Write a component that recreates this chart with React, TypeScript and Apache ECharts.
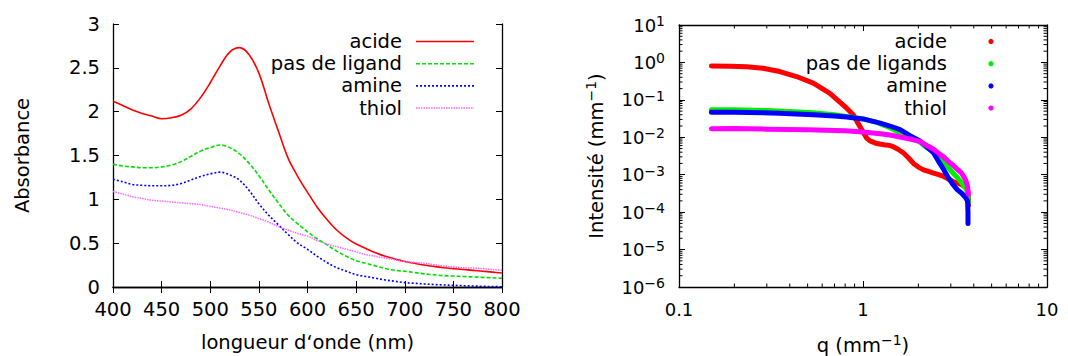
import React, { useEffect, useRef } from "react";
import * as echarts from "echarts";

// ---------- Left panel: UV-vis absorbance ----------
const wavelengths = [
  400, 410, 420, 430, 440, 450, 460, 470, 480, 490, 500, 510, 520, 530, 540, 550, 560, 570, 580, 590,
  600, 610, 620, 630, 640, 650, 660, 670, 680, 690, 700, 710, 720, 730, 740, 750, 760, 770, 780, 790, 800,
];
const absAcide = [
  2.12, 2.07, 2.02, 1.98, 1.95, 1.92, 1.93, 1.96, 2.03, 2.16, 2.33, 2.52, 2.68, 2.73, 2.65, 2.44, 2.1, 1.78, 1.47, 1.26,
  1.08, 0.91, 0.77, 0.65, 0.56, 0.49, 0.44, 0.39, 0.35, 0.32, 0.29, 0.27, 0.25, 0.235, 0.22, 0.21, 0.2, 0.19, 0.18, 0.17, 0.16,
];
const absPasDeLigand = [
  1.4, 1.38, 1.37, 1.36, 1.36, 1.37, 1.39, 1.43, 1.49, 1.55, 1.59, 1.62, 1.59, 1.52, 1.41, 1.27, 1.11, 0.96, 0.82, 0.72,
  0.63, 0.55, 0.48, 0.41, 0.35, 0.3, 0.27, 0.24, 0.21, 0.19, 0.18, 0.165, 0.15, 0.14, 0.13, 0.125, 0.12, 0.115, 0.11, 0.105, 0.1,
];
const absAmine = [
  1.23, 1.2, 1.17, 1.16, 1.155, 1.155, 1.16, 1.18, 1.22, 1.26, 1.29, 1.31, 1.28, 1.22, 1.1, 0.95, 0.82, 0.71, 0.6, 0.5,
  0.43, 0.35, 0.28, 0.22, 0.18, 0.14, 0.12, 0.1, 0.08, 0.065, 0.05, 0.042, 0.035, 0.028, 0.023, 0.019, 0.015, 0.011, 0.008, 0.005, 0.003,
];
const absThiol = [
  1.09, 1.06, 1.03, 1.01, 0.99, 0.98, 0.97, 0.96, 0.95, 0.94, 0.92, 0.9, 0.88, 0.85, 0.82, 0.78, 0.74, 0.69, 0.65, 0.61,
  0.58, 0.53, 0.49, 0.46, 0.43, 0.4, 0.37, 0.35, 0.33, 0.31, 0.29, 0.28, 0.27, 0.255, 0.24, 0.23, 0.22, 0.215, 0.21, 0.2, 0.19,
];

// ---------- Right panel: SAXS intensity ----------
const qAcide = [
  0.15, 0.189, 0.233, 0.286, 0.353, 0.435, 0.537, 0.661, 0.815, 0.885, 0.925, 0.965, 1.0, 1.047, 1.09, 1.19, 1.3, 1.4,
  1.46, 1.55, 1.66, 1.77, 1.88, 2.0, 2.13, 2.27, 2.42, 2.58, 2.74, 2.9, 3.09, 3.25, 3.44, 3.6, 3.7, 3.74, 3.75,
];
const iAcide = [
  0.8, 0.79, 0.77, 0.7, 0.57, 0.42, 0.28, 0.15, 0.06, 0.04, 0.027, 0.019, 0.014, 0.0095, 0.008, 0.0068, 0.0063, 0.006,
  0.0056, 0.0048, 0.0038, 0.0028, 0.002, 0.0016, 0.00135, 0.00122, 0.0011, 0.001, 0.0009, 0.00078, 0.00066, 0.0006, 0.00054, 0.00046, 0.0004, 0.00025, 0.00015,
];
const qPasDeLigands = [
  0.15, 0.2, 0.3, 0.4, 0.537, 0.7, 0.815, 1.0, 1.19, 1.4, 1.59, 1.8, 2.04, 2.2, 2.42, 2.6, 2.74, 2.9, 3.09, 3.25, 3.44, 3.6, 3.7, 3.74,
];
const iPasDeLigands = [
  0.054, 0.054, 0.052, 0.049, 0.045, 0.04, 0.036, 0.031, 0.025, 0.018, 0.013, 0.0098, 0.0075, 0.0055, 0.0042, 0.003, 0.0023, 0.0016,
  0.0011, 0.00085, 0.0006, 0.00045, 0.00035, 0.00018,
];
const qAmine = [
  0.15, 0.2, 0.353, 0.537, 0.7, 0.815, 1.0, 1.24, 1.4, 1.59, 1.8, 2.04, 2.2, 2.42, 2.6, 2.74, 2.9, 3.09, 3.25, 3.44, 3.6, 3.7, 3.72, 3.72,
];
const iAmine = [
  0.047, 0.047, 0.044, 0.04, 0.037, 0.035, 0.031, 0.024, 0.02, 0.016, 0.011, 0.008, 0.0058, 0.0038, 0.0021, 0.0014, 0.00085, 0.00054,
  0.0004, 0.00032, 0.00025, 0.0002, 0.0001, 0.00005,
];
const qThiol = [
  0.15, 0.2, 0.3, 0.5, 0.8, 1.0, 1.24, 1.4, 1.59, 1.8, 2.04, 2.2, 2.42, 2.6, 2.74, 2.9, 3.09, 3.25, 3.44, 3.6, 3.7, 3.74,
];
const iThiol = [
  0.017, 0.0172, 0.0165, 0.016, 0.015, 0.0138, 0.0125, 0.0115, 0.0102, 0.009, 0.0078, 0.0062, 0.0048, 0.0036, 0.003, 0.0023, 0.0018,
  0.0014, 0.0011, 0.00075, 0.0005, 0.0003,
];

const leftLegend = ["acide", "pas de ligand", "amine", "thiol"];
const rightLegend = ["acide", "pas de ligands", "amine", "thiol"];

const qMinorTicks = [0.2, 0.3, 0.4, 0.5, 0.6, 0.7, 0.8, 0.9, 2, 3, 4, 5, 6, 7, 8, 9];
const intensityDecades = [1e-6, 1e-5, 1e-4, 1e-3, 1e-2, 1e-1, 1];
const minorMultipliers = [2, 3, 4, 5, 6, 7, 8, 9];

const FONT = "DejaVu Sans";
const RED = "#ff0000";
const GREEN = "#00e000";
const BLUE = "#0000ff";
const PINK = "#ff66ff";
const MAGENTA = "#ff00ff";

const leftStyles = [
  { color: RED, width: 1.6, type: "solid" as any },
  { color: GREEN, width: 1.6, type: [4, 2] as any },
  { color: BLUE, width: 1.6, type: [2, 2] as any },
  { color: PINK, width: 1.5, type: [1.5, 1] as any },
];
const rightColors = [RED, "#00ee00", BLUE, MAGENTA];

const SUP = (e: number) => (e < 0 ? "\u2212" + Math.abs(e) : String(e));

export default function App() {
  const ref = useRef<HTMLDivElement>(null);
  useEffect(() => {
    if (!ref.current) return;
    const chart = echarts.init(ref.current, null, { renderer: "svg" });

    const axisLine = { show: true, lineStyle: { color: "#000", width: 1.3 } };
    const tickMajor = { show: true, inside: true, length: 6, lineStyle: { color: "#000", width: 1 } };
    const labelStyle = { color: "#000", fontFamily: FONT, fontSize: 19.5 };
    const nameStyle = { color: "#000", fontFamily: FONT, fontSize: 19.5 };

    const logLabelRich = {
      b: { fontFamily: FONT, fontSize: 18, color: "#000", lineHeight: 22 },
      e: { fontFamily: FONT, fontSize: 14, color: "#000", lineHeight: 6, verticalAlign: "top" },
    };
    const supRich = {
      s: { fontFamily: FONT, fontSize: 14, color: "#000", lineHeight: 8, verticalAlign: "top" },
    };

    const iMinorTicks: number[] = [];
    intensityDecades.forEach((d) => minorMultipliers.forEach((m) => iMinorTicks.push(m * d)));

    const leftData = [absAcide, absPasDeLigand, absAmine, absThiol];
    const rightData = [
      [qAcide, iAcide],
      [qPasDeLigands, iPasDeLigands],
      [qAmine, iAmine],
      [qThiol, iThiol],
    ];

    const legendRows = [41.5, 63.7, 85.9, 108.1];
    const graphics: any[] = [];
    leftLegend.forEach((name, i) => {
      graphics.push({
        type: "text",
        x: 402,
        y: legendRows[i],
        style: { text: name, align: "right", verticalAlign: "middle", fontFamily: FONT, fontSize: 19.5, fill: "#000" },
      });
      const st = leftStyles[i];
      graphics.push({
        type: "line",
        shape: { x1: 416, y1: legendRows[i], x2: 474, y2: legendRows[i] },
        style: { stroke: st.color, lineWidth: st.width, lineDash: Array.isArray(st.type) ? st.type : null },
      });
    });
    rightLegend.forEach((name, i) => {
      graphics.push({
        type: "text",
        x: 947,
        y: legendRows[i],
        style: { text: name, align: "right", verticalAlign: "middle", fontFamily: FONT, fontSize: 19.5, fill: "#000" },
      });
      graphics.push({
        type: "circle",
        shape: { cx: 991, cy: legendRows[i], r: 2.6 },
        style: { fill: rightColors[i] },
      });
    });

    const series: any[] = [];
    leftData.forEach((arr, i) => {
      series.push({
        type: "line",
        name: leftLegend[i],
        xAxisIndex: 0,
        yAxisIndex: 0,
        data: wavelengths.map((w, k) => [w, arr[k]]),
        showSymbol: false,
        smooth: 0.35,
        lineStyle: leftStyles[i],
        z: 5,
      });
    });
    rightData.forEach(([qs, is], i) => {
      series.push({
        type: "line",
        name: rightLegend[i],
        xAxisIndex: 2,
        yAxisIndex: 2,
        data: qs.map((q, k) => [q, is[k]]),
        showSymbol: false,
        lineStyle: { color: rightColors[i], width: 5, cap: "round", join: "round" },
        z: 5,
      });
    });
    series.push({
      type: "custom",
      xAxisIndex: 2,
      yAxisIndex: 2,
      data: [[1, 1]],
      silent: true,
      clip: false,
      z: 6,
      renderItem: (params: any, api: any) => {
        const cs = params.coordSys;
        const children: any[] = [];
        const st = { stroke: "#000", lineWidth: 1 };
        qMinorTicks.forEach((q) => {
          const x = api.coord([q, 1])[0];
          children.push({ type: "line", shape: { x1: x, y1: cs.y + cs.height, x2: x, y2: cs.y + cs.height - 3.5 }, style: st });
          children.push({ type: "line", shape: { x1: x, y1: cs.y, x2: x, y2: cs.y + 3.5 }, style: st });
        });
        iMinorTicks.forEach((v) => {
          const y = api.coord([1, v])[1];
          children.push({ type: "line", shape: { x1: cs.x, y1: y, x2: cs.x + 3.5, y2: y }, style: st });
          children.push({ type: "line", shape: { x1: cs.x + cs.width, y1: y, x2: cs.x + cs.width - 3.5, y2: y }, style: st });
        });
        return { type: "group", children };
      },
    });

    const logFmt = (v: number) => `{b|10}{e|${SUP(Math.round(Math.log10(v)))}}`;
    const qFmt = (v: number) => {
      const e = Math.round(Math.log10(v));
      return e < 0 ? "0.1" : e === 0 ? "1" : "10";
    };

    chart.setOption({
      animation: false,
      backgroundColor: "#fff",
      textStyle: { fontFamily: FONT },
      grid: [
        { left: 113, top: 24, width: 389, height: 263, outerBoundsMode: "none" },
        { left: 679, top: 25, width: 368, height: 262, outerBoundsMode: "none" },
      ],
      xAxis: [
        {
          gridIndex: 0, type: "value", min: 400, max: 800, interval: 50, position: "bottom",
          axisLine, axisTick: tickMajor, splitLine: { show: false },
          axisLabel: { ...labelStyle, margin: 12 },
          name: "longueur d\u2018onde (nm)", nameLocation: "middle", nameGap: 45, nameTextStyle: nameStyle,
        },
        {
          gridIndex: 0, type: "value", min: 400, max: 800, interval: 50, position: "top",
          axisLine, axisTick: tickMajor, splitLine: { show: false }, axisLabel: { show: false },
        },
        {
          gridIndex: 1, type: "log", logBase: 10, min: 0.1, max: 10, splitNumber: 2, position: "bottom",
          axisLine, axisTick: tickMajor, splitLine: { show: false },
          axisLabel: { ...labelStyle, fontSize: 18, margin: 13, formatter: qFmt },
          name: "q (mm{s|\u22121})", nameLocation: "middle", nameGap: 46,
          nameTextStyle: { ...nameStyle, lineHeight: 24, rich: supRich },
        },
        {
          gridIndex: 1, type: "log", logBase: 10, min: 0.1, max: 10, splitNumber: 2, position: "top",
          axisLine, axisTick: tickMajor, splitLine: { show: false }, axisLabel: { show: false },
        },
      ],
      yAxis: [
        {
          gridIndex: 0, type: "value", min: 0, max: 3, interval: 0.5, position: "left",
          axisLine, axisTick: tickMajor, splitLine: { show: false },
          axisLabel: { ...labelStyle, margin: 13 },
          name: "Absorbance", nameLocation: "middle", nameRotate: 90, nameGap: 81, nameTextStyle: nameStyle,
        },
        {
          gridIndex: 0, type: "value", min: 0, max: 3, interval: 0.5, position: "right",
          axisLine, axisTick: tickMajor, splitLine: { show: false }, axisLabel: { show: false },
        },
        {
          gridIndex: 1, type: "log", logBase: 10, min: 1e-6, max: 10, splitNumber: 7, position: "left",
          axisLine, axisTick: tickMajor, splitLine: { show: false },
          axisLabel: { margin: 14, formatter: logFmt, rich: logLabelRich },
          name: "Intensit\u00e9 (mm{s|\u22121})", nameLocation: "middle", nameRotate: 90, nameGap: 71,
          nameTextStyle: { ...nameStyle, lineHeight: 24, rich: supRich },
        },
        {
          gridIndex: 1, type: "log", logBase: 10, min: 1e-6, max: 10, splitNumber: 7, position: "right",
          axisLine, axisTick: tickMajor, splitLine: { show: false }, axisLabel: { show: false },
        },
      ],
      graphic: { elements: graphics },
      series,
    });

    return () => chart.dispose();
  }, []);

  return <div ref={ref} style={{ position: "fixed", left: 0, top: 0, width: 1068, height: 356 }} />;
}
